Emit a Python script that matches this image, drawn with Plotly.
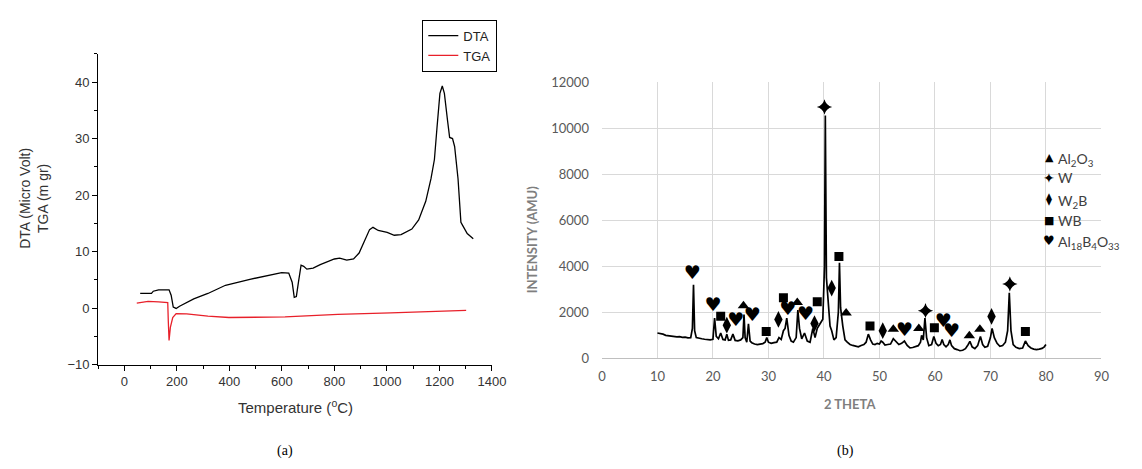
import plotly.graph_objects as go

# ---------------- (a) DTA / TGA data ----------------
dta_temp = [60, 103, 110, 130, 170, 178, 186, 197, 210, 264, 318, 385, 478, 599, 626, 639, 647,
            655, 663, 673, 683, 695, 719, 746, 800, 820, 847, 873, 894, 934, 947, 967, 1001, 1028,
            1054, 1095, 1121, 1148, 1168, 1181, 1191, 1202, 1211, 1219, 1231, 1239, 1250, 1258,
            1271, 1282, 1289, 1306, 1329]
dta_val = [2.6, 2.6, 3.0, 3.25, 3.25, 2.3, 0.2, -0.05, 0.35, 1.65, 2.6, 4.05, 5.1, 6.3, 6.2, 4.6, 1.9,
           2.05, 4.6, 7.6, 7.4, 6.9, 7.1, 7.7, 8.7, 8.85, 8.5, 8.7, 9.75, 13.9, 14.3, 13.75, 13.4, 12.9,
           13.0, 14.0, 15.6, 18.9, 22.9, 26.3, 32.0, 38.0, 39.3, 38.0, 33.2, 30.2, 30.0, 28.6,
           22.9, 15.2, 14.6, 13.2, 12.3]
tga_temp = [47, 90, 130, 165, 167, 170, 175, 184, 197, 237, 318, 398, 612, 813, 1014, 1215, 1302]
tga_val = [0.9, 1.2, 1.1, 1.0, -2.2, -5.7, -3.4, -1.65, -0.97, -1.0, -1.4, -1.65, -1.55, -1.1, -0.85, -0.5, -0.4]

# ---------------- (b) XRD data ----------------
theta = [10, 10.5, 11, 11.5, 12, 12.5, 13, 13.5, 14, 14.5, 15, 15.5, 16, 16.3, 16.5, 16.7, 17, 17.5, 18,
         18.5, 19, 19.5, 20, 20.3, 20.6, 21, 21.4, 21.8, 22.2, 22.5, 22.8, 23.2, 23.6, 24, 24.5, 25,
         25.4, 25.6, 25.8, 26.1, 26.4, 26.7, 27, 27.5, 28, 28.5, 29, 29.4, 29.7, 30, 30.5, 31, 31.5,
         31.9, 32.3, 32.7, 33.0, 33.3, 33.7, 34.1, 34.5, 35.0, 35.3, 35.6, 36.0, 36.5, 37.0, 37.5,
         38.0, 38.4, 38.8, 39.3, 39.8, 40.1, 40.25, 40.45, 40.8, 41.1, 41.4, 41.8, 42.2, 42.6, 42.8,
         43.0, 43.4, 43.8, 44.2, 44.7, 45.2, 45.7, 46.2, 46.7, 47.2, 47.6, 48.0, 48.4, 48.8, 49.2,
         49.6, 50.0, 50.3, 50.6, 51.0, 51.5, 52.0, 52.5, 53.0, 53.5, 54.0, 54.5, 55.0, 55.5, 56.0,
         56.5, 57.0, 57.4, 57.6, 57.9, 58.2, 58.5, 58.9, 59.4, 59.8, 60.2, 60.6, 61.0, 61.3, 61.6,
         62.0, 62.4, 62.7, 63.0, 63.5, 64.0, 64.5, 65.0, 65.5, 66.0, 66.3, 66.7, 67.2, 67.7, 68.2,
         68.6, 69.0, 69.5, 70.0, 70.3, 70.7, 71.2, 71.7, 72.2, 72.7, 73.1, 73.4, 73.7, 74.1, 74.6,
         75.2, 75.8, 76.3, 76.8, 77.3, 77.8, 78.3, 78.8, 79.3, 79.7, 80]
intensity = [1100, 1080, 1050, 1000, 980, 950, 960, 930, 940, 910, 920, 890, 900, 1300, 3200, 1200, 900,
             860, 850, 830, 820, 800, 830, 1750, 950, 850, 1100, 820, 800, 1050, 780, 800, 1050, 780,
             760, 800, 900, 1900, 900, 700, 1500, 750, 680, 620, 600, 620, 640, 700, 900, 700, 650,
             680, 700, 900, 820, 1200, 1300, 1750, 1000, 750, 700, 900, 2100, 1300, 850, 1100, 750,
             700, 1300, 900, 1300, 1500, 1700, 4000, 10550, 3500, 2400, 1400, 1200, 800, 900, 2000,
             4150, 2200, 1400, 800, 700, 600, 560, 520, 500, 560, 600, 700, 1050, 800, 620, 600, 650,
             620, 750, 700, 580, 600, 620, 850, 700, 600, 650, 750, 560, 450, 470, 500, 550, 700,
             1000, 800, 1750, 900, 550, 600, 950, 650, 550, 600, 820, 600, 500, 600, 800, 550, 420,
             380, 330, 350, 420, 600, 740, 500, 420, 550, 950, 600, 480, 520, 900, 1300, 900, 650,
             520, 560, 700, 1200, 2850, 1200, 600, 480, 420, 450, 750, 550, 450, 400, 380, 400, 430,
             500, 600]

al2o3_x = [25.5, 35.2, 44.0, 52.5, 57.1, 66.2, 68.1]
al2o3_y = [2280, 2420, 1970, 1260, 1300, 980, 1260]
w_x = [40.1, 58.3, 73.5]
w_y = [10920, 2070, 3230]
w2b_x = [22.5, 31.8, 38.3, 41.4, 50.6, 70.2]
w2b_y = [1440, 1690, 1510, 3050, 1200, 1820]
wb_x = [21.4, 29.6, 32.7, 38.8, 42.7, 48.3, 59.9, 76.3]
wb_y = [1830, 1160, 2630, 2460, 4420, 1400, 1330, 1160]
alb_x = [16.3, 20.0, 24.1, 27.1, 33.5, 36.7, 54.5, 61.5, 63.0]
alb_y = [3636, 2280, 1608, 1818, 2070, 1888, 1190, 1580, 1147]

legend_labels = ["Al<sub>2</sub>O<sub>3</sub>", "W", "W<sub>2</sub>B", "WB",
                 "Al<sub>18</sub>B<sub>4</sub>O<sub>33</sub>"]
legend_glyphs = ["▲", "✦", "⧫", "■", "♥"]
legend_glyph_sizes = [11, 14, 12, 11, 13]

W, H = 1142, 469
fig = go.Figure()

# (a)
fig.add_trace(go.Scatter(x=dta_temp, y=dta_val, mode="lines", name="DTA",
                         line=dict(color="black", width=1.3), xaxis="x", yaxis="y"))
fig.add_trace(go.Scatter(x=tga_temp, y=tga_val, mode="lines", name="TGA",
                         line=dict(color="#e8202a", width=1.3), xaxis="x", yaxis="y"))

# (b)
fig.add_trace(go.Scatter(x=theta, y=intensity, mode="lines", showlegend=False,
                         line=dict(color="black", width=1.7), xaxis="x2", yaxis="y2"))
fig.add_trace(go.Scatter(x=al2o3_x, y=al2o3_y, mode="markers", showlegend=False,
                         marker=dict(symbol="triangle-up", size=10, color="black"), xaxis="x2", yaxis="y2"))
fig.add_trace(go.Scatter(x=w_x, y=w_y, mode="markers", showlegend=False,
                         marker=dict(symbol="star-diamond", size=11, color="black"), xaxis="x2", yaxis="y2"))
fig.add_trace(go.Scatter(x=w2b_x, y=w2b_y, mode="markers", showlegend=False,
                         marker=dict(symbol="diamond-tall", size=12, color="black"), xaxis="x2", yaxis="y2"))
fig.add_trace(go.Scatter(x=wb_x, y=wb_y, mode="markers", showlegend=False,
                         marker=dict(symbol="square", size=9, color="black"), xaxis="x2", yaxis="y2"))
fig.add_trace(go.Scatter(x=alb_x, y=alb_y, mode="text", text=["♥"] * len(alb_x), showlegend=False,
                         textposition="middle center",
                         textfont=dict(family="DejaVu Sans", size=19, color="black"),
                         xaxis="x2", yaxis="y2"))

tickfont_a = dict(family="Liberation Sans", size=13, color="#333333")
tickfont_b = dict(family="Lato", size=13, color="#595959")

fig.update_layout(
    width=W, height=H,
    margin=dict(l=0, r=0, t=0, b=0),
    paper_bgcolor="white", plot_bgcolor="white",
    showlegend=True,
    legend=dict(x=425 / W, y=1 - 12 / H, xanchor="left", yanchor="top",
                bordercolor="black", borderwidth=1, bgcolor="white",
                font=dict(family="Liberation Sans", size=13, color="#222222"),
                tracegroupgap=0, itemwidth=30),
    xaxis=dict(domain=[95.7 / W, 495.7 / W], anchor="y", range=[-100, 1400],
               tickvals=[0, 200, 400, 600, 800, 1000, 1200, 1400],
               showline=True, linecolor="black", linewidth=1.2, ticks="outside",
               ticklen=5, tickcolor="black", showgrid=False, zeroline=False, tickfont=tickfont_a,
               minor=dict(dtick=100, tick0=0, ticks="outside", ticklen=3, tickcolor="black")),
    yaxis=dict(domain=[1 - 369.3 / H, 1 - 47.4 / H], anchor="x", range=[-10, 45],
               tickvals=[-10, 0, 10, 20, 30, 40],
               showline=True, linecolor="black", linewidth=1.2, ticks="outside",
               ticklen=5, tickcolor="black", showgrid=False, zeroline=False, tickfont=tickfont_a,
               minor=dict(dtick=5, tick0=0, ticks="outside", ticklen=3, tickcolor="black")),
    xaxis2=dict(domain=[607.5 / W, 1115 / W], anchor="y2", range=[0, 90], dtick=10,
                showgrid=True, gridcolor="#d9d9d9", gridwidth=1, zeroline=False,
                showline=True, linecolor="#bfbfbf", linewidth=1, ticks="", tickfont=tickfont_b,
                ticklabelstandoff=6),
    yaxis2=dict(domain=[1 - 362.7 / H, 1 - 76.7 / H], anchor="x2", range=[0, 12000], dtick=2000,
                tickformat="d",
                showgrid=True, gridcolor="#d9d9d9", gridwidth=1, zeroline=False,
                showline=False, ticks="", tickfont=tickfont_b, ticklabelstandoff=12),
)


def note(text, x, y, font, angle=0, xanchor="center"):
    return dict(text=text, x=x / W, y=1 - y / H, xref="paper", yref="paper", showarrow=False,
                xanchor=xanchor, yanchor="middle", textangle=angle, font=font)


ann = []
fa = dict(family="Liberation Sans", size=14, color="#333333")
fb = dict(family="Lato", size=13, color="#7f7f7f")
ann.append(note("DTA (Micro Volt)<br>TGA (m gr)", 31, 197, fa, angle=-90))
ann.append(note("Temperature (<sup>o</sup>C)", 296, 413, dict(fa, size=15)))
ann.append(note("<b>INTENSITY (AMU)</b>", 536, 240, fb, angle=-90))
ann.append(note("<b>2 THETA</b>", 860, 410, fb))
# (b) legend
leg_y = [155, 176, 198, 220, 241]
sub_shift = [2, 0, 2, 0, 2]
for g, gs, lab, yy, sh in zip(legend_glyphs, legend_glyph_sizes, legend_labels, leg_y, sub_shift):
    ann.append(note(g, 1062, yy, dict(family="DejaVu Sans", size=gs, color="black")))
    ann.append(note(lab, 1069, yy + sh, dict(family="Lato", size=14, color="#404040"), xanchor="left"))
# panel labels
fs = dict(family="Liberation Serif", size=14, color="black")
ann.append(note("(a)", 286, 459, fs))
ann.append(note("(b)", 855, 459, fs))
fig.update_layout(annotations=ann)

fig.write_html("out.html", config={"displayModeBar": False},
               post_script="document.body.style.margin='0';document.body.style.overflow='hidden';")
